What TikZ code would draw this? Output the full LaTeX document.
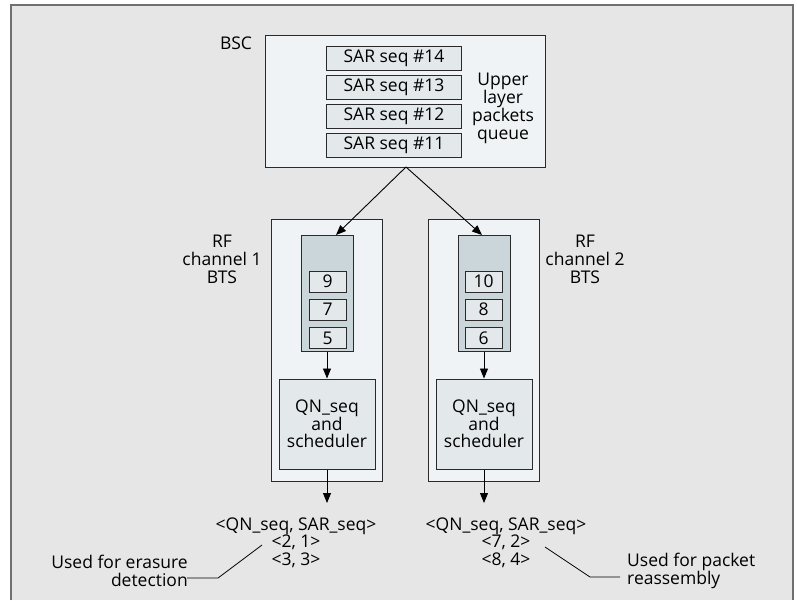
\documentclass[tikz,border=0pt]{standalone}
\usepackage{fontspec}
\setmainfont{Open Sans}
\usetikzlibrary{arrows.meta}
\definecolor{bgcol}{HTML}{E6E6E6}
\definecolor{framecol}{HTML}{707070}
\definecolor{palefill}{HTML}{F0F3F5}
\definecolor{boxfill}{HTML}{E3E8EB}
\definecolor{queuefill}{HTML}{CBD6DA}
\definecolor{linecol}{HTML}{2A2A2A}
\tikzset{
  txt/.style={font=\fontsize{17.5}{18}\selectfont, inner sep=0pt, align=center},
  outerbox/.style={draw=linecol, line width=1pt, fill=palefill, inner sep=0pt},
  itembox/.style={draw=linecol, line width=1pt, fill=boxfill, inner sep=0pt,
                  font=\fontsize{17.5}{18}\selectfont},
  queuebox/.style={draw=linecol, line width=1pt, fill=queuefill, inner sep=0pt},
  arr/.style={draw=black, line width=0.9pt, -{Triangle[length=10pt,width=8pt]}},
  leader/.style={draw=black, line width=0.8pt},
}
\begin{document}
\begin{tikzpicture}[x=1pt, y=-1pt]
\useasboundingbox (0,0) rectangle (797,600);
% background panel and its frame
\fill[bgcol] (11,5) rectangle (793,600);
\draw[framecol, line width=2pt] (11,600) -- (11,5) -- (793,5) -- (793,600);

% BSC with its packet queue
\node[outerbox, minimum width=280pt, minimum height=132pt] (bsc) at (405,101) {};
\node[txt] (bsclabel) at (236,43) {BSC};
\foreach \n/\y in {14/58, 13/87, 12/116, 11/145.5}{
  \node[itembox, minimum width=135pt, minimum height=24pt] (sar\n) at (394,\y) {SAR seq \#\n};
}
\node[txt] (upper) at (503,108) {Upper\\layer\\packets\\queue};
\coordinate (apex) at (406,167);

% BTS for RF channel 1
\node[outerbox, minimum width=111pt, minimum height=262pt] (bts1) at (327,350) {};
\node[queuebox, minimum width=52pt, minimum height=116pt] (q1) at (327,293) {};
\node[itembox, minimum width=37pt, minimum height=21pt] (n9) at (327.5,281.5) {9};
\node[itembox, minimum width=37pt, minimum height=21pt] (n7) at (327.5,309.5) {7};
\node[itembox, minimum width=37pt, minimum height=21pt] (n5) at (327.5,338) {5};
\node[itembox, minimum width=96pt, minimum height=90pt, align=center,
      font=\fontsize{17.5}{17.5}\selectfont] (qn1) at (327,424) {QN\_seq\\and\\scheduler};
\node[txt] (rf1) at (222,259) {RF\\channel 1\\BTS};

% BTS for RF channel 2
\node[outerbox, minimum width=111pt, minimum height=262pt] (bts2) at (483.5,350) {};
\node[queuebox, minimum width=52pt, minimum height=116pt] (q2) at (484,293) {};
\node[itembox, minimum width=37pt, minimum height=21pt] (n10) at (483.5,281.5) {10};
\node[itembox, minimum width=37pt, minimum height=21pt] (n8) at (483.5,309.5) {8};
\node[itembox, minimum width=37pt, minimum height=21pt] (n6) at (483.5,338) {6};
\node[itembox, minimum width=96pt, minimum height=90pt, align=center,
      font=\fontsize{17.5}{17.5}\selectfont] (qn2) at (484,424) {QN\_seq\\and\\scheduler};
\node[txt] (rf2) at (585,259) {RF\\channel 2\\BTS};

% connectors
\coordinate (in1) at (336,235);
\coordinate (in2) at (482,235);
\draw[arr] (apex) -- (in1);
\draw[arr] (apex) -- (in2);
\draw[arr] (q1.south) -- (qn1.north);
\draw[arr] (q2.south) -- (qn2.north);
\coordinate (out1) at (327,503);
\coordinate (out2) at (484,503);
\draw[arr] (qn1.south) -- (out1);
\draw[arr] (qn2.south) -- (out2);

% output tuples
\node[txt, font=\fontsize{17.5}{17.5}\selectfont] (tup1) at (296,542.5) {<QN\_seq, SAR\_seq>\\<2, 1>\\<3, 3>};
\node[txt, font=\fontsize{17.5}{17.5}\selectfont] (tup2) at (506,542.5) {<QN\_seq, SAR\_seq>\\<7, 2>\\<8, 4>};

% annotations with leader lines
\node[txt, align=right, anchor=east] (erasure) at (188,571) {Used for erasure\\detection};
\node[txt, align=left, anchor=west] (reasm) at (627,571) {Used for packet\\reassembly};
\coordinate (l1a) at (187,578);
\coordinate (l1b) at (218,578);
\coordinate (l1c) at (262,545);
\draw[leader] (l1a) -- (l1b) -- (l1c);
\coordinate (l2a) at (545,547);
\coordinate (l2b) at (590,577);
\coordinate (l2c) at (620,577);
\draw[leader] (l2a) -- (l2b) -- (l2c);
\end{tikzpicture}
\end{document}
